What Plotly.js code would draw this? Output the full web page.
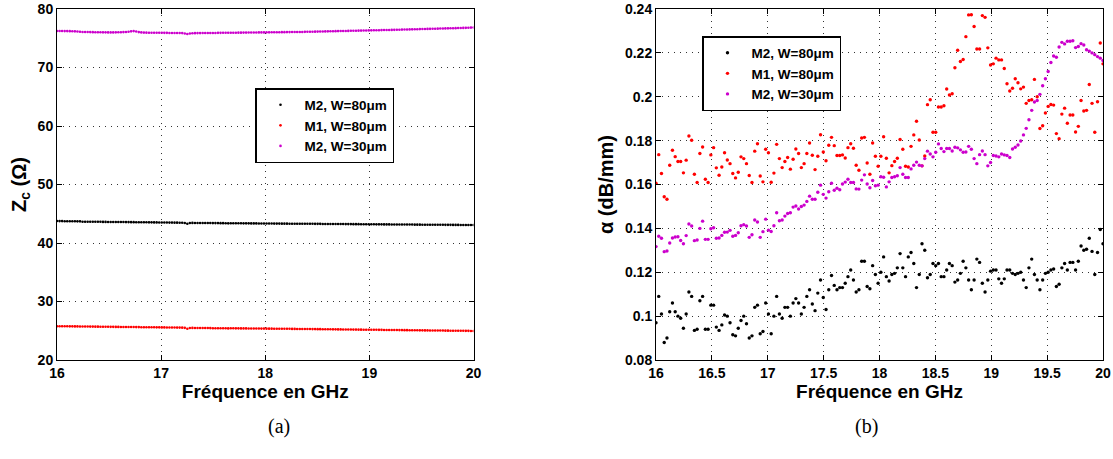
<!DOCTYPE html>
<html>
<head>
<meta charset="utf-8">
<script src="https://cdn.plot.ly/plotly-3.0.1.min.js"></script>
<style>html,body{margin:0;padding:0;background:#fff;}#chart{width:1113px;height:459px;}</style>
</head>
<body>
<div id="chart"></div>
<script>
// Frequency grid (GHz)
const FREQ_START = 16;
const FREQ_END = 20;

const seriesNames = ["M2, W=80μm", "M1, W=80μm", "M2, W=30μm"];

// (a) Characteristic impedance Zc (Ohm)
const zcM2W80 = [
43.75,43.74,43.74,43.73,43.73,43.72,43.72,43.71,43.70,43.70,
43.64,43.64,43.63,43.63,43.63,43.62,43.62,43.62,43.61,43.61,
43.60,43.60,43.60,43.59,43.59,43.58,43.58,43.57,43.57,43.56,
43.56,43.55,43.55,43.55,43.54,43.54,43.53,43.53,43.52,43.52,
43.51,43.51,43.50,43.50,43.49,43.49,43.48,43.48,43.47,43.46,
43.42,43.30,43.43,43.44,43.43,43.43,43.42,43.42,43.41,43.41,
43.41,43.40,43.40,43.40,43.39,43.39,43.38,43.36,43.38,43.38,
43.37,43.37,43.37,43.36,43.36,43.36,43.35,43.35,43.35,43.34,
43.34,43.34,43.33,43.33,43.33,43.32,43.32,43.32,43.31,43.31,
43.31,43.30,43.30,43.30,43.30,43.29,43.29,43.29,43.28,43.28,
43.28,43.27,43.27,43.27,43.26,43.26,43.26,43.25,43.25,43.25,
43.24,43.24,43.24,43.23,43.23,43.23,43.22,43.22,43.22,43.21,
43.21,43.21,43.20,43.20,43.20,43.19,43.19,43.19,43.18,43.18,
43.18,43.17,43.17,43.17,43.16,43.16,43.16,43.15,43.15,43.15,
43.14,43.14,43.14,43.13,43.13,43.13,43.12,43.12,43.12,43.11,
43.11,43.11,43.10,43.10,43.10,43.09,43.09,43.09,43.08,43.08,
43.08,43.08,43.07,43.07];

const zcM1W80 = [
25.78,25.77,25.77,25.76,25.76,25.75,25.75,25.74,25.74,25.73,
25.73,25.72,25.72,25.71,25.71,25.70,25.70,25.69,25.69,25.68,
25.68,25.67,25.67,25.66,25.66,25.65,25.65,25.64,25.64,25.63,
25.63,25.62,25.62,25.61,25.61,25.60,25.60,25.59,25.59,25.58,
25.58,25.57,25.57,25.56,25.56,25.55,25.55,25.54,25.54,25.53,
25.50,25.35,25.47,25.49,25.48,25.48,25.47,25.47,25.46,25.46,
25.45,25.44,25.44,25.44,25.43,25.43,25.42,25.40,25.42,25.42,
25.41,25.41,25.40,25.40,25.40,25.39,25.39,25.38,25.38,25.38,
25.37,25.37,25.36,25.36,25.36,25.35,25.35,25.34,25.34,25.34,
25.33,25.33,25.32,25.32,25.31,25.31,25.30,25.30,25.29,25.29,
25.28,25.28,25.27,25.27,25.26,25.26,25.25,25.25,25.24,25.24,
25.23,25.23,25.22,25.22,25.21,25.21,25.20,25.20,25.19,25.19,
25.18,25.18,25.17,25.17,25.16,25.16,25.15,25.15,25.14,25.14,
25.13,25.13,25.12,25.12,25.11,25.11,25.10,25.10,25.09,25.09,
25.08,25.08,25.07,25.07,25.06,25.06,25.05,25.05,25.04,25.04,
25.03,25.03,25.02,25.02,25.01,25.01,25.00,25.00,24.99,24.99,
24.98,24.98,24.97,24.97];

const zcM2W30 = [
76.25,76.24,76.23,76.22,76.22,76.21,76.20,76.18,76.15,76.10,
76.08,76.07,76.06,76.05,76.04,76.03,76.02,76.02,76.01,76.01,
76.00,76.00,76.00,76.01,76.02,76.03,76.05,76.08,76.12,76.18,
76.22,76.15,76.05,76.00,75.97,75.96,75.95,75.95,75.94,75.94,
75.93,75.93,75.92,75.92,75.91,75.91,75.90,75.90,75.89,75.88,
75.82,75.72,75.80,75.85,75.87,75.88,75.88,75.89,75.89,75.90,
75.90,75.91,75.91,75.92,75.92,75.93,75.93,75.94,75.94,75.95,
75.95,75.96,75.96,75.97,75.97,75.98,75.98,75.99,75.99,76.00,
76.00,76.00,76.01,76.01,76.02,76.02,76.03,76.03,76.04,76.04,
76.05,76.05,76.06,76.06,76.07,76.07,76.08,76.09,76.10,76.11,
76.12,76.13,76.14,76.15,76.16,76.17,76.18,76.19,76.20,76.21,
76.22,76.23,76.24,76.25,76.26,76.27,76.28,76.29,76.30,76.31,
76.32,76.33,76.34,76.35,76.36,76.37,76.38,76.39,76.40,76.41,
76.42,76.43,76.44,76.45,76.46,76.48,76.49,76.50,76.51,76.52,
76.54,76.55,76.56,76.57,76.58,76.60,76.61,76.62,76.63,76.64,
76.66,76.67,76.68,76.69,76.70,76.72,76.73,76.74,76.75,76.77,
76.78,76.80,76.82,76.84];

// (b) Attenuation alpha (dB/mm)
const alphaM2W80 = [
0.097,0.109,0.101,0.088,0.090,0.102,0.106,0.102,0.100,0.099,
0.0945,0.101,0.111,0.109,0.0935,0.094,0.107,0.109,0.094,0.094,
0.105,0.105,0.095,0.0935,0.096,0.1005,0.100,0.097,0.0915,0.091,
0.0945,0.098,0.100,0.0965,0.090,0.091,0.104,0.105,0.092,0.093,
0.106,0.101,
0.092,0.100,0.109,0.101,0.099,0.104,0.104,0.100,0.106,0.108,
0.106,0.101,0.104,0.109,0.112,0.1055,0.1025,0.1105,0.1165,0.1085,
0.103,0.112,0.1185,0.114,0.112,0.113,0.113,0.115,0.118,0.121,
0.1165,0.111,0.112,0.125,0.125,0.1135,0.1125,0.123,0.119,0.115,
0.120,0.127,0.118,0.116,0.119,0.1195,0.122,0.1285,0.122,0.118,
0.127,0.129,0.124,0.113,0.119,0.133,0.130,0.1175,0.119,0.124,
0.123,0.124,0.118,0.118,0.121,0.124,0.123,0.1155,0.1165,0.1195,
0.125,0.122,0.1165,0.112,0.1165,0.126,0.1245,0.115,0.111,0.1165,
0.1205,0.121,0.121,0.117,0.115,0.117,0.121,0.121,0.1195,0.119,
0.1195,0.120,0.1165,0.113,0.122,0.126,0.119,0.1165,0.112,0.1165,
0.1195,0.120,0.121,0.1215,0.1135,0.1145,0.122,0.124,0.121,0.1245,
0.1245,0.121,0.125,0.132,0.130,0.1305,0.1355,0.1295,0.119,0.129,
0.1395,0.133];

const alphaM1W80 = [
0.1606,0.1736,0.165,0.1544,0.1533,0.1688,0.1756,0.1727,0.1705,0.1705,
0.1653,0.1711,0.1821,0.1802,0.1647,0.1609,0.1741,0.1771,0.1624,0.1609,
0.1735,0.1768,0.1676,0.1642,0.168,0.1745,0.1712,0.1695,0.165,0.163,
0.1656,0.1726,0.1718,0.1695,0.1641,0.1609,0.1752,0.1786,0.1639,0.1612,
0.1761,0.1745,
0.161,0.1652,0.1783,0.1718,0.1677,0.1705,0.1723,0.167,0.1715,0.1762,
0.1741,0.1677,0.1695,0.1741,0.1789,0.1733,0.1668,0.1729,0.1827,0.1748,
0.1708,0.1779,0.1815,0.1777,0.1732,0.1732,0.1735,0.1721,0.1768,0.1786,
0.1765,0.1688,0.1665,0.1812,0.1815,0.1698,0.1647,0.1789,0.1729,
0.1683,0.1729,0.1818,0.172,0.1653,0.1686,0.1705,0.172,0.1805,0.1761,
0.1683,0.168,0.1774,0.1826,0.1888,0.1803,0.1685,0.173,0.1964,0.1986,
0.1838,0.1838,0.1953,0.1953,0.1959,0.2035,0.2008,0.2014,0.2132,0.2212,
0.2161,0.217,0.2274,0.2373,0.2374,0.232,0.2218,0.2218,0.237,0.2362,
0.2223,
0.2145,0.215,0.2176,0.2168,0.2168,0.2129,0.2059,0.2026,0.2039,0.2082,
0.2064,0.2036,0.2044,0.197,0.1983,0.1986,0.2079,0.2,0.1855,0.1868,
0.1926,0.1956,0.1965,0.1962,0.1832,0.1809,0.1921,0.1948,0.1879,0.1917,
0.1917,0.1839,0.1865,0.1983,0.1935,0.1938,0.2056,0.197,0.1838,0.1977,
0.2245,0.215];

const alphaM2W30 = [
0.1317,0.1364,0.1355,0.1294,0.1297,0.1333,0.1356,0.1361,0.1362,0.1345,
0.133,0.1367,0.142,0.1411,0.1344,0.1347,0.14,0.1433,0.135,0.135,
0.1398,0.1403,0.1355,0.1356,0.1368,0.1382,0.1383,0.1391,0.1364,0.1368,
0.138,0.1412,0.1417,0.1411,0.1359,0.1371,0.1438,0.1429,0.1359,0.1385,
0.1442,0.1392,
0.1386,0.1412,0.1471,0.1435,0.1438,0.1456,0.1468,0.1471,0.1497,0.1502,
0.1488,0.15,0.1506,0.1523,0.1547,0.1533,0.1533,0.1565,0.1597,0.1555,
0.1538,0.1567,0.1606,0.1574,0.1583,0.1576,0.1602,0.1611,0.1624,0.1609,
0.1609,0.158,0.1579,0.162,0.1644,0.1602,0.1585,0.1618,0.1594,
0.1597,0.1635,0.1633,0.1589,0.1612,0.1632,0.1635,0.164,0.1677,0.1647,
0.1632,0.1632,0.1671,0.1688,0.1702,0.1688,0.1685,0.1718,0.1752,0.1739,
0.1726,0.1747,0.1785,0.1764,0.175,0.1764,0.1764,0.1753,0.177,0.1767,
0.1758,0.1747,0.1748,0.1774,0.1761,0.1718,0.1695,0.1736,0.1753,0.1736,
0.1685,
0.17,0.1732,0.173,0.1726,0.1739,0.1735,0.1732,0.1723,0.1762,0.177,
0.178,0.1798,0.1826,0.1856,0.1895,0.1938,0.1976,0.1983,0.2011,0.205,
0.2082,0.2115,0.2156,0.2186,0.218,0.2227,0.2248,0.2241,0.2253,0.2253,
0.2255,0.2224,0.2229,0.2242,0.2236,0.2214,0.2208,0.22,0.2192,0.2183,
0.2176,0.2165];

const colors = ["#000000", "#ff0000", "#cc00cc"];

const FONT = "Liberation Sans, Arial, Helvetica, sans-serif";

function mk(y, i, xa, ya, leg, size) {
  return {
    type: "scatter", mode: "markers",
    x0: FREQ_START, dx: (FREQ_END - FREQ_START) / (y.length - 1),
    y: y, xaxis: xa, yaxis: ya, legend: leg,
    name: seriesNames[i],
    marker: {color: colors[i], size: size, line: {width: 0}},
    hoverinfo: "x+y"
  };
}

const traces = [
  mk(zcM2W80, 0, "x", "y", "legend", 2.6),
  mk(zcM1W80, 1, "x", "y", "legend", 2.6),
  mk(zcM2W30, 2, "x", "y", "legend", 2.6),
  mk(alphaM2W80, 0, "x2", "y2", "legend2", 3.4),
  mk(alphaM1W80, 1, "x2", "y2", "legend2", 3.4),
  mk(alphaM2W30, 2, "x2", "y2", "legend2", 3.4)
];

const tickFont = {family: FONT, size: 14, color: "#000", weight: "bold"};
const titleFont = {family: FONT, size: 19, color: "#000", weight: "bold"};
const yTitleFont = {family: FONT, size: 20, color: "#000", weight: "bold"};

function axisBase() {
  return {
    showline: true, linecolor: "#000", linewidth: 1, mirror: "allticks",
    ticks: "inside", ticklen: 5, tickcolor: "#000", tickwidth: 1,
    showgrid: true, gridcolor: "#333", griddash: "1px,5px", gridwidth: 1,
    zeroline: false, tickfont: tickFont, fixedrange: true
  };
}

const legendBase = {
  font: {family: FONT, size: 13.5, color: "#000", weight: "bold"},
  bgcolor: "#fff", bordercolor: "#000", borderwidth: 1.5,
  xanchor: "left", yanchor: "top", tracegroupgap: 0, itemsizing: "trace",
  itemwidth: 38
};

const L = 57, R = 10, T = 9, B = 99;
const W = 1113, H = 459;
const pw = W - L - R, ph = H - T - B;
const px = v => (v - L) / pw;
const py = v => (H - B - v) / ph;

const layout = {
  width: W, height: H,
  margin: {l: L, r: R, t: T, b: B, pad: 0},
  paper_bgcolor: "#fff", plot_bgcolor: "#fff",
  showlegend: true,
  xaxis: Object.assign(axisBase(), {
    domain: [0, px(473.5)], anchor: "y", range: [16, 20], dtick: 1, tick0: 16,
    title: {text: "Fréquence en GHz", font: titleFont, standoff: 3}
  }),
  yaxis: Object.assign(axisBase(), {
    domain: [0, 1], anchor: "x", range: [20, 80], dtick: 10, tick0: 20,
    title: {text: "Z<sub>c</sub> (Ω)", font: yTitleFont, standoff: 5}
  }),
  xaxis2: Object.assign(axisBase(), {
    domain: [px(656), 1], anchor: "y2", range: [16, 20], dtick: 0.5, tick0: 16,
    title: {text: "Fréquence en GHz", font: titleFont, standoff: 3}
  }),
  yaxis2: Object.assign(axisBase(), {
    domain: [0, 1], anchor: "x2", range: [0.08, 0.24], dtick: 0.02, tick0: 0.08,
    title: {text: "α (dB/mm)", font: yTitleFont, standoff: 5}
  }),
  legend: Object.assign({}, legendBase, {x: px(255), y: py(88)}),
  legend2: Object.assign({}, legendBase, {x: px(702), y: py(36)}),
  annotations: [
    {text: "(a)", xref: "paper", yref: "paper", x: px(266), y: py(440), showarrow: false,
     font: {family: "Liberation Serif, DejaVu Serif, serif", size: 20, color: "#000"}},
    {text: "(b)", xref: "paper", yref: "paper", x: px(880), y: py(440), showarrow: false,
     font: {family: "Liberation Serif, DejaVu Serif, serif", size: 20, color: "#000"}}
  ]
};

Plotly.newPlot("chart", traces, layout, {displayModeBar: false, responsive: false, staticPlot: true});
</script>
</body>
</html>
